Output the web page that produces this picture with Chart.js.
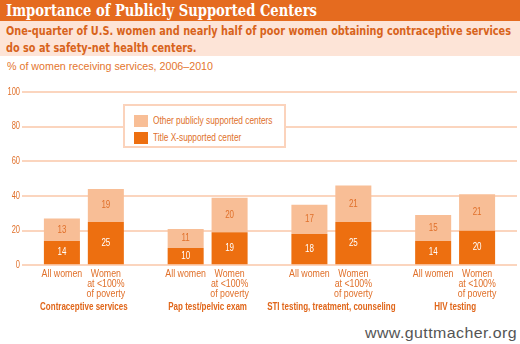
<!DOCTYPE html>
<html>
<head>
<meta charset="utf-8">
<script src="https://cdn.jsdelivr.net/npm/chart.js@4/dist/chart.umd.min.js"></script>
<style>
  body { margin: 0; width: 520px; height: 344px; position: relative; overflow: hidden; background: #fff; }
  .fit { display: inline-block; white-space: nowrap; transform-origin: 0 0; }
  #title { position: absolute; left: 0; top: 0; width: 520px; height: 21px; background: #e56b1f; color: #fff;
    font: bold 17px "DejaVu Serif", serif; line-height: 21px; padding-left: 6px; box-sizing: border-box; overflow: hidden; }
  #sub { position: absolute; left: 0; top: 21px; width: 520px; height: 35px; background: #fde4d7; color: #d8631b;
    font: bold 12.5px "DejaVu Sans", sans-serif; line-height: 17px; padding: 1px 0 0 6px; box-sizing: border-box; overflow: hidden; }
  #unit { position: absolute; left: 7px; top: 60px; color: #e4762e; font: 11px "Liberation Sans", Arial, sans-serif; }
  #wrap { position: absolute; left: 0; top: 76px; width: 520px; height: 248px; }
  #legend { position: absolute; left: 123px; top: 104px; width: 163px; height: 44px; border: 2px solid #fbd3bc; box-sizing: border-box; background: #fff;
    font: 10px "Liberation Sans", Arial, sans-serif; color: #e0702a; padding: 6px 0 0 9px; overflow: hidden; }
  #legend div { height: 17px; display: flex; align-items: center; white-space: nowrap; }
  #legend span.sw { width: 14px; height: 12px; margin-right: 5px; display: inline-block; flex: none; }
  #url { position: absolute; left: 365px; top: 324px; color: #555; font: 15px "Liberation Sans", Arial, sans-serif; letter-spacing: 0.4px; }
</style>
</head>
<body>
<div id="title"><span class="fit" id="titleText">Importance of Publicly Supported Centers</span></div>
<div id="sub"><span class="fit" id="subText">One-quarter of U.S. women and nearly half of poor women obtaining contraceptive services<br>do so at safety-net health centers.</span></div>
<div id="unit"><span class="fit" id="unitText">% of women receiving services, 2006–2010</span></div>
<div id="wrap"><canvas id="chart"></canvas></div>
<div id="legend"></div>
<div id="url"><span class="fit" id="urlText">www.guttmacher.org</span></div>
<script>
const services = ['Contraceptive services', 'Pap test/pelvic exam', 'STI testing, treatment, counseling', 'HIV testing'];
const groups = [['All women'], ['Women', 'at <100%', 'of poverty']];
const yTicks = [0, 20, 40, 60, 80, 100];

// all women
const allTitleX = [14, 10, 18, 14];
const allOther = [13, 11, 17, 15];
// women below poverty line
const poorTitleX = [25, 19, 25, 20];
const poorOther = [19, 20, 21, 21];

const DARK = '#ed6f10';
const LIGHT = '#f8be96';
const TEXT = '#e0702a';
const SANS = '"Liberation Sans", Arial, sans-serif';

const datasets = [
    { label: 'Title X-supported center', data: allTitleX, stack: 'all', backgroundColor: DARK },
    { label: 'Other publicly supported centers', data: allOther, stack: 'all', backgroundColor: LIGHT },
    { label: 'Title X-supported center', data: poorTitleX, stack: 'poor', backgroundColor: DARK },
    { label: 'Other publicly supported centers', data: poorOther, stack: 'poor', backgroundColor: LIGHT }
];

// legend, light series listed first
document.getElementById('legend').innerHTML = [datasets[1], datasets[0]]
    .map(d => `<div><span class="sw" style="background:${d.backgroundColor}"></span><span class="fit leg">${d.label}</span></div>`).join('');

// squeeze text horizontally to a given width (the house font is a condensed face)
function fit(el, w) {
    const s = w / el.getBoundingClientRect().width;
    el.style.transform = `scaleX(${s})`;
    return s;
}
fit(document.getElementById('titleText'), 311);
const subEl = document.getElementById('subText');
const line1 = subEl.getBoundingClientRect().width;
subEl.style.transform = `scaleX(${505 / line1})`;
fit(document.getElementById('unitText'), 206);
fit(document.getElementById('urlText'), 152);
document.querySelectorAll('.leg').forEach(el => { el.style.transform = 'scaleX(0.83)'; });

function narrow(ctx, text, x, y, sx) {
    ctx.save();
    ctx.translate(x, y);
    ctx.scale(sx, 1);
    ctx.fillText(text, 0, 0);
    ctx.restore();
}

// axis labels, values inside bars and the captions under each stack
const barText = {
    id: 'barText',
    afterDatasetsDraw(chart) {
        const ctx = chart.ctx;
        const area = chart.chartArea;
        const ys = chart.scales.y, xs = chart.scales.x;
        ctx.save();
        ctx.textBaseline = 'middle';

        ctx.font = '10px ' + SANS;
        ctx.fillStyle = TEXT;
        ctx.textAlign = 'right';
        yTicks.forEach(v => narrow(ctx, String(v), area.left - 2, ys.getPixelForValue(v), 0.75));

        ctx.textAlign = 'center';
        chart.data.datasets.forEach((ds, i) => {
            const meta = chart.getDatasetMeta(i);
            meta.data.forEach((bar, j) => {
                ctx.font = '10px ' + SANS;
                ctx.fillStyle = ds.backgroundColor === DARK ? '#fff' : TEXT;
                narrow(ctx, String(ds.data[j]), bar.x, (bar.y + bar.base) / 2, 0.8);
                if (ds.backgroundColor === DARK) {
                    const lines = groups[ds.stack === 'all' ? 0 : 1];
                    ctx.fillStyle = TEXT;
                    lines.forEach((t, k) => narrow(ctx, t, bar.x, area.bottom + 9 + k * 10, 0.88));
                }
            });
        });

        ctx.font = 'bold 10px ' + SANS;
        ctx.fillStyle = '#e0661a';
        services.forEach((s, i) => narrow(ctx, s, xs.getPixelForValue(i), area.bottom + 42, 0.8));
        ctx.restore();
    }
};

new Chart(document.getElementById('chart'), {
    type: 'bar',
    data: { labels: services, datasets: datasets },
    options: {
        responsive: true,
        maintainAspectRatio: false,
        animation: false,
        layout: { padding: { top: 16, right: 3, left: 0, bottom: 0 } },
        datasets: { bar: { categoryPercentage: 0.71, barPercentage: 0.82 } },
        plugins: { legend: { display: false }, tooltip: { enabled: false } },
        scales: {
            x: {
                stacked: true,
                grid: { display: false },
                border: { display: false },
                ticks: { display: false },
                afterFit(s) { s.height = 58.7; }
            },
            y: {
                stacked: true,
                min: 0,
                max: 100,
                afterBuildTicks(s) { s.ticks = yTicks.map(v => ({ value: v })); },
                grid: { color: '#fbd5be', lineWidth: 2, drawTicks: false },
                border: { display: false },
                ticks: { display: false },
                afterFit(s) { s.width = 22; }
            }
        }
    },
    plugins: [barText]
});
</script>
</body>
</html>
